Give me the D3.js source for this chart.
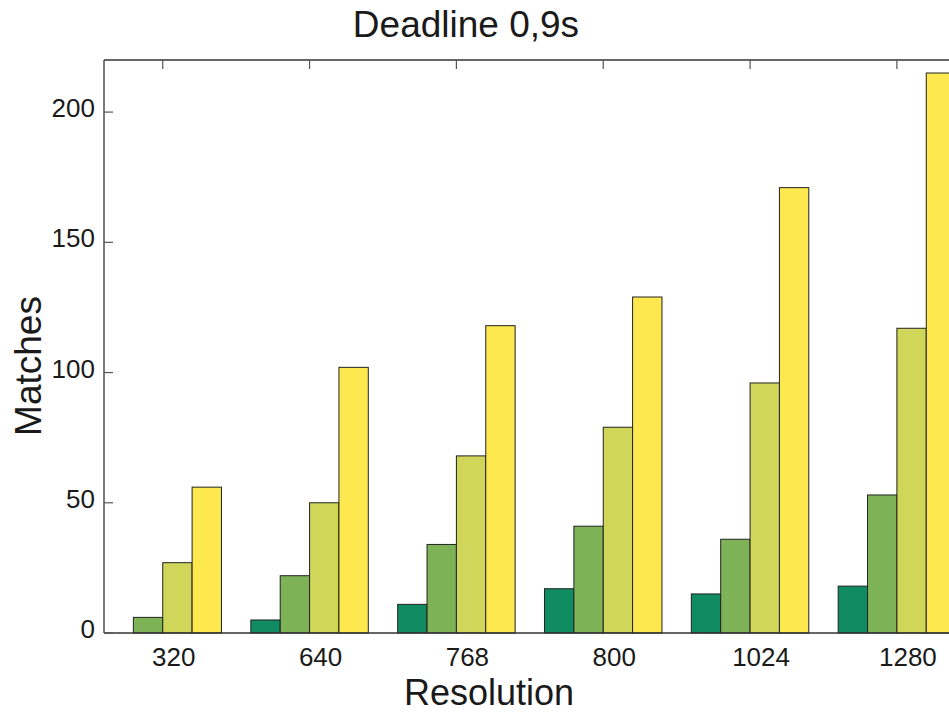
<!DOCTYPE html>
<html>
<head>
<meta charset="utf-8">
<script src="https://cdn.jsdelivr.net/npm/d3@7"></script>
<style>
  body { margin: 0; background: #fff; }
  svg { display: block; font-family: "Liberation Sans", Arial, sans-serif; }
</style>
</head>
<body>
<svg id="chart" width="949" height="714"></svg>
<script>
// resolutions along the x axis
const resolutions = ["320", "640", "768", "800", "1024", "1280"];
// one series per bar colour, left to right in each group
const series1 = [0, 5, 11, 17, 15, 18];
const series2 = [6, 22, 34, 41, 36, 53];
const series3 = [27, 50, 68, 79, 96, 117];
const series4 = [56, 102, 118, 129, 171, 215];
const colors = ["#118c62", "#7db356", "#cfd65a", "#fde84f"];
const yTicks = [0, 50, 100, 150, 200];

const svg = d3.select("#chart");
const margin = {left: 104, top: 60, bottom: 633};
const barWidth = 0.2;

// the plot runs off the right edge of the picture
const x = d3.scaleLinear().domain([0, 6]).range([margin.left, 985]);
const y = d3.scaleLinear().domain([0, 220]).range([margin.bottom, margin.top]);

const allSeries = [series1, series2, series3, series4];

allSeries.forEach((values, j) => {
    svg.append("g")
        .selectAll("rect")
        .data(values)
        .join("rect")
        .attr("x", (d, i) => x(i + j * barWidth))
        .attr("y", d => y(d))
        .attr("width", x(barWidth) - x(0))
        .attr("height", d => y(0) - y(d))
        .attr("fill", colors[j])
        .attr("stroke", "#222")
        .attr("stroke-width", 1);
});

// frame (left, top, bottom)
const frame = svg.append("g").attr("stroke", "#333").attr("stroke-width", 1.3).attr("fill", "none");
frame.append("line").attr("x1", margin.left).attr("x2", margin.left).attr("y1", margin.top).attr("y2", margin.bottom);
frame.append("line").attr("x1", margin.left).attr("x2", 949).attr("y1", margin.top).attr("y2", margin.top);
frame.append("line").attr("x1", margin.left).attr("x2", 949).attr("y1", margin.bottom).attr("y2", margin.bottom);

// inward ticks
const tickPos = resolutions.map((r, i) => i + 2 * barWidth);
svg.append("g").attr("stroke", "#555").attr("stroke-width", 1.2)
    .selectAll("line")
    .data(tickPos)
    .join("line")
    .attr("x1", d => x(d)).attr("x2", d => x(d))
    .attr("y1", margin.top).attr("y2", margin.top + 9);

svg.append("g").attr("stroke", "#555").attr("stroke-width", 1.2)
    .selectAll("line")
    .data(yTicks)
    .join("line")
    .attr("x1", margin.left).attr("x2", margin.left + 9)
    .attr("y1", d => y(d)).attr("y2", d => y(d));

// tick labels
svg.append("g")
    .selectAll("text")
    .data(resolutions)
    .join("text")
    .attr("x", (d, i) => x(i + 0.475))
    .attr("y", 666)
    .attr("text-anchor", "middle")
    .attr("font-size", 26)
    .attr("fill", "#1a1a1a")
    .text(d => d);

svg.append("g")
    .selectAll("text")
    .data(yTicks)
    .join("text")
    .attr("x", 95)
    .attr("y", d => y(d) + 5)
    .attr("text-anchor", "end")
    .attr("font-size", 26)
    .attr("fill", "#1a1a1a")
    .text(d => d);

// title and axis labels
svg.append("text")
    .attr("x", 466).attr("y", 37)
    .attr("text-anchor", "middle")
    .attr("font-size", 37)
    .attr("fill", "#1a1a1a")
    .text("Deadline 0,9s");

svg.append("text")
    .attr("x", 489).attr("y", 705)
    .attr("text-anchor", "middle")
    .attr("font-size", 36)
    .attr("fill", "#1a1a1a")
    .text("Resolution");

svg.append("text")
    .attr("transform", "translate(41,366) rotate(-90)")
    .attr("text-anchor", "middle")
    .attr("font-size", 37)
    .attr("fill", "#1a1a1a")
    .text("Matches");
</script>
</body>
</html>
